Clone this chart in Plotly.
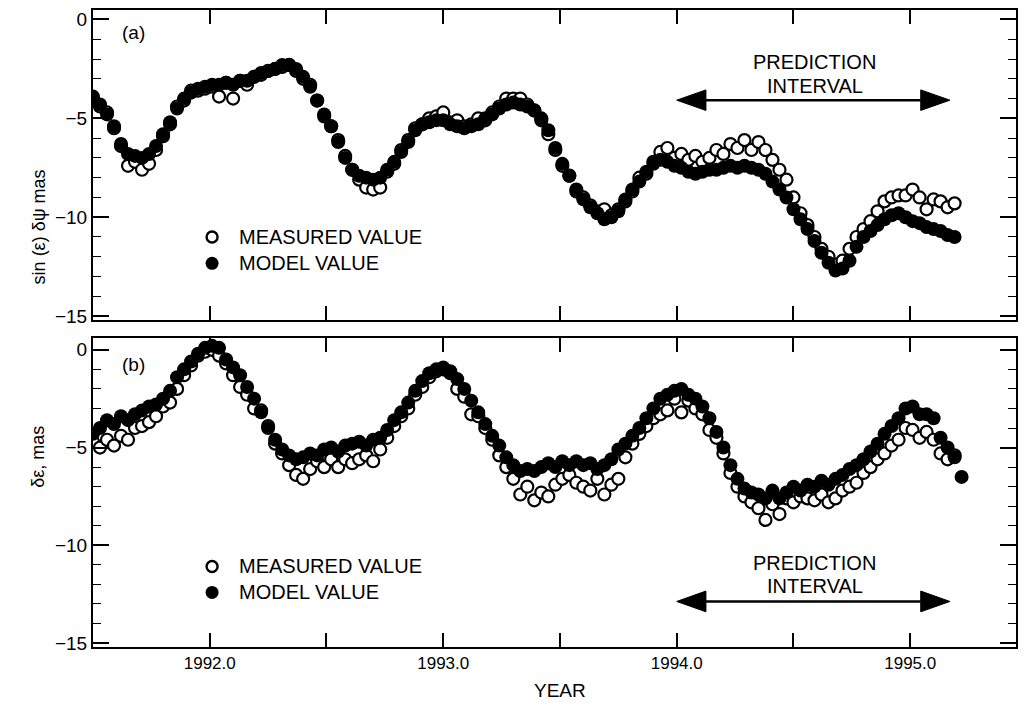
import plotly.graph_objects as go

# ---------------- data ----------------
years = [
    1991.50, 1991.53, 1991.56, 1991.59, 1991.62, 1991.65, 1991.68, 1991.71, 1991.74, 1991.77,
    1991.80, 1991.83, 1991.86, 1991.89, 1991.92, 1991.95, 1991.98, 1992.01, 1992.04, 1992.07,
    1992.10, 1992.13, 1992.16, 1992.19, 1992.22, 1992.25, 1992.28, 1992.31, 1992.34, 1992.37,
    1992.40, 1992.43, 1992.46, 1992.49, 1992.52, 1992.55, 1992.58, 1992.61, 1992.64, 1992.67,
    1992.70, 1992.73, 1992.76, 1992.79, 1992.82, 1992.85, 1992.88, 1992.91, 1992.94, 1992.97,
    1993.00, 1993.03, 1993.06, 1993.09, 1993.12, 1993.15, 1993.18, 1993.21, 1993.24, 1993.27,
    1993.30, 1993.33, 1993.36, 1993.39, 1993.42, 1993.45, 1993.48, 1993.51, 1993.54, 1993.57,
    1993.60, 1993.63, 1993.66, 1993.69, 1993.72, 1993.75, 1993.78, 1993.81, 1993.84, 1993.87,
    1993.90, 1993.93, 1993.96, 1993.99, 1994.02, 1994.05, 1994.08, 1994.11, 1994.14, 1994.17,
    1994.20, 1994.23, 1994.26, 1994.29, 1994.32, 1994.35, 1994.38, 1994.41, 1994.44, 1994.47,
    1994.50, 1994.53, 1994.56, 1994.59, 1994.62, 1994.65, 1994.68, 1994.71, 1994.74, 1994.77,
    1994.80, 1994.83, 1994.86, 1994.89, 1994.92, 1994.95, 1994.98, 1995.01, 1995.04, 1995.07,
    1995.10, 1995.13, 1995.16, 1995.19,
]

# panel (a): sin(eps) dpsi, mas
model_a = [
    -3.9, -4.3, -4.8, -5.4, -6.3, -6.8, -6.9, -7.0, -6.8, -6.4,
    -5.8, -5.2, -4.5, -4.0, -3.7, -3.5, -3.4, -3.3, -3.3, -3.2,
    -3.3, -3.1, -3.1, -2.9, -2.7, -2.6, -2.5, -2.3, -2.3, -2.5,
    -2.9, -3.4, -4.1, -4.8, -5.4, -6.2, -7.0, -7.6, -7.9, -8.0,
    -8.1, -8.0, -7.6, -7.2, -6.7, -6.2, -5.6, -5.3, -5.2, -5.1,
    -5.1, -5.3, -5.4, -5.5, -5.4, -5.3, -5.0, -4.8, -4.5, -4.3,
    -4.2, -4.3, -4.4, -4.6, -5.0, -5.6, -6.5, -7.3, -7.9, -8.6,
    -9.1, -9.5, -9.8, -10.1, -10.0, -9.7, -9.1, -8.6, -8.2, -7.7,
    -7.3, -7.1, -7.2, -7.4, -7.5, -7.7, -7.8, -7.7, -7.6, -7.6,
    -7.5, -7.4, -7.5, -7.4, -7.5, -7.6, -7.8, -8.2, -8.6, -9.0,
    -9.6, -10.1, -10.6, -11.2, -11.8, -12.3, -12.7, -12.6, -12.2, -11.5,
    -11.0, -10.7, -10.4, -10.1, -9.9, -9.8, -10.0, -10.2, -10.3, -10.5,
    -10.6, -10.7, -10.9, -11.0,
]
measured_a = [
    -4.1, -4.4, -4.7, -5.5, -6.4, -7.4, -7.2, -7.6, -7.3, -6.6,
    -5.9, -5.3, -4.4, -4.1, -3.6, -3.6, -3.5, -3.4, -3.9, -3.2,
    -4.0, -3.1, -3.3, -2.9, -2.8, -2.6, -2.5, -2.4, -2.3, -2.6,
    -3.0, -3.3, -4.1, -4.9, -5.4, -6.1, -6.9, -7.6, -8.1, -8.5,
    -8.6, -8.5, -7.7, -7.3, -6.6, -6.1, -5.5, -5.3, -5.0, -4.9,
    -4.7, -5.2, -5.1, -5.4, -5.3, -5.0, -5.1, -4.7, -4.4, -4.0,
    -4.0, -4.0, -4.3, -4.6, -5.1, -5.8, -6.6, -7.4, -7.9, -8.7,
    -9.0, -9.4, -9.7, -9.6, -9.9, -9.6, -9.2, -8.7, -8.0, -7.8,
    -7.2, -6.7, -6.5, -7.0, -6.8, -7.1, -6.9, -7.2, -7.0, -6.6,
    -6.8, -6.3, -6.5, -6.1, -6.6, -6.2, -6.6, -7.1, -7.6, -8.1,
    -9.0, -9.8, -10.4, -11.0, -11.6, -12.0, -12.4, -12.2, -11.6, -11.0,
    -10.6, -10.2, -9.7, -9.2, -9.0, -8.9, -8.9, -8.6, -9.0, -9.6,
    -9.1, -9.2, -9.5, -9.3,
]

# panel (b): d-eps, mas
model_b = [
    -4.3, -4.0, -3.6, -3.8, -3.4, -3.6, -3.3, -3.1, -2.9, -2.8,
    -2.5, -2.1, -1.4, -1.0, -0.6, -0.2, 0.1, 0.2, 0.1, -0.5,
    -0.9, -1.3, -1.9, -2.5, -3.2, -4.0, -4.6, -5.1, -5.4, -5.6,
    -5.5, -5.3, -5.4, -5.1, -5.0, -5.2, -4.9, -4.8, -4.7, -4.9,
    -4.6, -4.5, -4.1, -3.6, -3.2, -2.7, -2.1, -1.6, -1.2, -1.0,
    -0.9, -1.1, -1.5, -2.0, -2.6, -3.2, -3.8, -4.4, -4.9, -5.5,
    -5.9, -6.2, -6.1, -6.2, -6.0, -5.8, -6.0, -5.7, -5.9, -5.7,
    -5.9, -5.8, -6.1, -5.9, -5.6, -5.1, -4.8, -4.4, -4.0, -3.5,
    -3.0, -2.5, -2.3, -2.1, -2.0, -2.3, -2.5, -2.9, -3.5, -4.2,
    -5.0, -5.9, -6.6, -7.1, -7.3, -7.4, -7.6, -7.2, -7.6, -7.3,
    -7.0, -7.2, -6.9, -7.0, -6.7, -6.9, -6.6, -6.4, -6.1, -5.9,
    -5.6, -5.2, -4.8, -4.3, -3.9, -3.5, -3.0, -2.9, -3.3, -3.3,
    -3.5, -4.5, -5.0, -5.5, -6.5,
]
measured_b = [
    -4.7, -5.0, -4.6, -4.9, -4.4, -4.6, -4.0, -3.9, -3.7, -3.4,
    -2.9, -2.7, -2.0, -1.3, -0.8, -0.3, -0.1, 0.0, -0.3, -0.7,
    -1.3, -1.9, -2.3, -3.0, -3.1, -3.9, -4.8, -5.3, -5.9, -6.4,
    -6.6, -6.1, -5.7, -6.0, -5.6, -6.0, -5.6, -5.8, -5.6, -5.4,
    -5.7, -5.1, -4.5, -3.9, -3.4, -3.0, -2.3, -1.9, -1.4, -1.1,
    -1.0, -1.2, -2.0, -2.4, -3.3, -3.4, -4.0, -4.6, -5.4, -6.0,
    -6.6, -7.4, -7.0, -7.7, -7.3, -7.5, -6.9, -6.6, -6.4, -6.8,
    -7.0, -7.2, -6.6, -7.4, -6.9, -6.6, -5.5, -4.8, -4.3, -3.9,
    -3.5, -3.3, -3.1, -2.5, -3.2, -2.6, -3.0, -3.3, -4.1, -4.5,
    -5.3, -6.3, -7.0, -7.5, -7.8, -8.1, -8.7, -7.9, -8.4, -7.6,
    -7.8, -7.5, -7.6, -7.7, -7.4, -7.8, -7.6, -7.2, -7.0, -6.8,
    -6.3, -6.0, -5.6, -5.3, -4.9, -4.6, -4.0, -4.1, -4.5, -4.2,
    -4.6, -5.3, -5.6, -5.4,
]
years_b_model = years + [1995.22]

x_tick_vals = [1992.0, 1993.0, 1994.0, 1995.0]
x_tick_text = ["1992.0", "1993.0", "1994.0", "1995.0"]
y_tick_vals = [0, -5, -10, -15]
y_tick_text = ["0", "\u22125", "\u221210", "\u221215"]

# ---------------- figure ----------------
FONT = "Liberation Sans, Arial, Helvetica, sans-serif"
BLACK = "#000000"
TXT = 20

open_marker = dict(symbol="circle", size=12, color="white", line=dict(color=BLACK, width=2.2))
fill_marker = dict(symbol="circle", size=14, color=BLACK, line=dict(color=BLACK, width=0))

fig = go.Figure()
fig.add_trace(go.Scatter(x=years, y=measured_a, mode="markers", marker=open_marker,
                         xaxis="x", yaxis="y", name="MEASURED VALUE", showlegend=False))
fig.add_trace(go.Scatter(x=years, y=model_a, mode="markers", marker=fill_marker,
                         xaxis="x", yaxis="y", name="MODEL VALUE", showlegend=False))
fig.add_trace(go.Scatter(x=years, y=measured_b, mode="markers", marker=open_marker,
                         xaxis="x2", yaxis="y2", name="MEASURED VALUE", showlegend=False))
fig.add_trace(go.Scatter(x=years_b_model, y=model_b, mode="markers", marker=fill_marker,
                         xaxis="x2", yaxis="y2", name="MODEL VALUE", showlegend=False))

XRANGE = [1991.5, 1995.453]

def xaxis_style(anchor, show_labels):
    return dict(
        range=XRANGE, anchor=anchor, domain=[0, 1],
        showline=True, linecolor=BLACK, linewidth=2, mirror="ticks",
        ticks="inside", ticklen=14, tickwidth=1.5, tickcolor=BLACK,
        tickvals=x_tick_vals, ticktext=x_tick_text, showticklabels=show_labels,
        minor=dict(tickvals=[1991.5, 1992.5, 1993.5, 1994.5, 1995.5], ticks="inside",
                   ticklen=14, tickwidth=1.5, tickcolor=BLACK),
        showgrid=False, zeroline=False,
        tickfont=dict(family=FONT, size=17, color=BLACK),
    )

def yaxis_style(anchor, domain, rng):
    return dict(
        range=rng, anchor=anchor, domain=domain,
        showline=True, linecolor=BLACK, linewidth=2, mirror="ticks",
        ticks="inside", ticklen=16, tickwidth=1.5, tickcolor=BLACK,
        tickvals=y_tick_vals, ticktext=y_tick_text,
        minor=dict(dtick=1, tick0=0, ticks="inside", ticklen=8, tickwidth=1.2, tickcolor=BLACK),
        showgrid=False, zeroline=False,
        tickfont=dict(family=FONT, size=19, color=BLACK),
    )

fig.update_layout(
    width=1024, height=710,
    margin=dict(l=93, r=6, t=10, b=63),
    paper_bgcolor="white", plot_bgcolor="white",
    font=dict(family=FONT, size=16, color=BLACK),
    xaxis=xaxis_style("y", False),
    yaxis=yaxis_style("x", [0.5133, 1.0], [-15.2, 0.48]),
    xaxis2=xaxis_style("y2", True),
    yaxis2=yaxis_style("x2", [0.0, 0.485], [-15.2, 0.6]),
    showlegend=False,
)

ann = []
def text(x, y, s, xref, yref, size=TXT, **kw):
    d = dict(x=x, y=y, text=s, xref=xref, yref=yref, showarrow=False,
             font=dict(family=FONT, size=size, color=BLACK))
    d.update(kw)
    ann.append(d)

# axis titles
text(-0.072, 0.753, "sin (\u03b5) \u03b4\u03c8 mas", "paper", "paper", size=18, textangle=-90)
text(-0.072, 0.246, "\u03b4\u03b5, mas", "paper", "paper", size=18, textangle=-90)
text(0.506, -0.088, "YEAR", "paper", "paper", size=19)

# panel labels
text(1991.615, -0.65, "(a)", "x", "y", size=19, xanchor="left")
text(1991.615, -0.75, "(b)", "x2", "y2", size=19, xanchor="left")

# legend texts
text(1992.115, -11.0, "MEASURED VALUE", "x", "y", xanchor="left")
text(1992.115, -12.33, "MODEL VALUE", "x", "y", xanchor="left")
text(1992.115, -11.08, "MEASURED VALUE", "x2", "y2", xanchor="left")
text(1992.115, -12.41, "MODEL VALUE", "x2", "y2", xanchor="left")

# prediction interval texts
text(1994.59, -2.16, "PREDICTION", "x", "y")
text(1994.59, -3.37, "INTERVAL", "x", "y")
text(1994.59, -10.92, "PREDICTION", "x2", "y2")
text(1994.59, -12.10, "INTERVAL", "x2", "y2")

shapes = []
def legend_circle(xref, yref, xv, yv, filled):
    r = 6.5 if filled else 5.5
    shapes.append(dict(type="circle", xref=xref, yref=yref,
                       xsizemode="pixel", ysizemode="pixel",
                       xanchor=xv, yanchor=yv, x0=-r, x1=r, y0=-r, y1=r,
                       fillcolor=BLACK if filled else "white",
                       line=dict(color=BLACK, width=0 if filled else 2.4)))

legend_circle("x", "y", 1992.01, -11.0, False)
legend_circle("x", "y", 1992.01, -12.33, True)
legend_circle("x2", "y2", 1992.01, -11.08, False)
legend_circle("x2", "y2", 1992.01, -12.41, True)

def interval_arrow(xref, yref, yc, half):
    x_left, x_right, head = 1994.0, 1995.17, 0.125
    shapes.append(dict(type="line", xref=xref, yref=yref, x0=x_left + head, x1=x_right - head,
                       y0=yc, y1=yc, line=dict(color=BLACK, width=2.5)))
    shapes.append(dict(type="path", xref=xref, yref=yref,
                       path=f"M {x_left},{yc} L {x_left + head},{yc + half} L {x_left + head},{yc - half} Z",
                       fillcolor=BLACK, line=dict(color=BLACK, width=1)))
    shapes.append(dict(type="path", xref=xref, yref=yref,
                       path=f"M {x_right},{yc} L {x_right - head},{yc + half} L {x_right - head},{yc - half} Z",
                       fillcolor=BLACK, line=dict(color=BLACK, width=1)))

interval_arrow("x", "y", -4.08, 0.52)
interval_arrow("x2", "y2", -12.87, 0.53)

fig.update_layout(annotations=ann, shapes=shapes)
fig.write_html("out.html")
